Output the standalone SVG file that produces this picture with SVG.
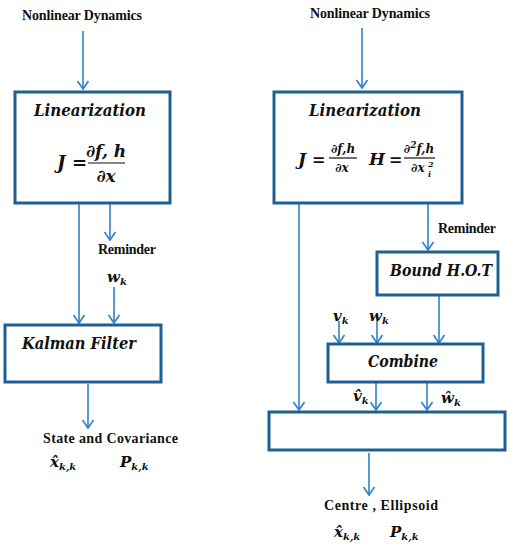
<svg xmlns="http://www.w3.org/2000/svg" width="516" height="550" viewBox="0 0 516 550">
<defs>
<marker id="ah" markerUnits="userSpaceOnUse" markerWidth="14" markerHeight="14" refX="9" refY="6" orient="auto" overflow="visible">
<path d="M1,0.5 L9,6 L1,11.5" fill="none" stroke="#2f82c4" stroke-width="1.6"/>
</marker>
</defs>
<style>
.box{fill:#fff;stroke:#1e5f94;stroke-width:3}
.ar{fill:none;stroke:#2f82c4;stroke-width:1.6;marker-end:url(#ah)}
.lbl{font-family:"Liberation Serif",serif;font-weight:bold;font-size:14px;fill:#111}
.m{font-family:"DejaVu Serif","Liberation Serif",serif;font-weight:bold;font-style:italic;fill:#111}
.mt{font-family:"DejaVu Serif","Liberation Serif",serif;font-weight:bold;fill:#111}
.fl{stroke:#111;stroke-width:1.2}
</style>
<rect width="516" height="550" fill="#fff"/>
<g id="connectors">
<line class="ar" x1="83" y1="31" x2="83" y2="89"/>
<line class="ar" x1="79" y1="203" x2="79" y2="323"/>
<line class="ar" x1="110" y1="203" x2="110" y2="240"/>
<line class="ar" x1="114" y1="287" x2="114" y2="323"/>
<line class="ar" x1="88" y1="384" x2="88" y2="428"/>
<line class="ar" x1="362" y1="28" x2="362" y2="88"/>
<line class="ar" x1="299" y1="204" x2="299" y2="410"/>
<line class="ar" x1="428" y1="204" x2="428" y2="250"/>
<line class="ar" x1="339" y1="321" x2="339" y2="343"/>
<line class="ar" x1="377" y1="321" x2="377" y2="343"/>
<line class="ar" x1="439" y1="296" x2="439" y2="343"/>
<line class="ar" x1="376" y1="383" x2="376" y2="410"/>
<line class="ar" x1="427" y1="383" x2="427" y2="410"/>
<line class="ar" x1="369" y1="453" x2="369" y2="495"/>
</g>
<g id="left-input"><text class="lbl" x="82" y="20" text-anchor="middle" textLength="120">Nonlinear Dynamics</text></g>
<g id="left-linearization">
<rect class="box" x="15" y="92" width="155" height="111"/>
<text class="m" x="90" y="116" font-size="17" text-anchor="middle" textLength="112" lengthAdjust="spacingAndGlyphs">Linearization</text>
<text class="m" x="57" y="169" font-size="18">J</text>
<text class="mt" x="72" y="169" font-size="18">=</text>
<text class="m" x="106" y="157" font-size="17" text-anchor="middle">∂f, h</text>
<line class="fl" x1="88" y1="163" x2="125" y2="163"/>
<text class="m" x="106" y="182" font-size="17" text-anchor="middle">∂x</text>
</g>
<g id="left-reminder">
<text class="lbl" x="98" y="254" textLength="58">Reminder</text>
<text class="m" x="107" y="282" font-size="15">w<tspan font-size="10" dy="3">k</tspan></text>
</g>
<g id="kalman">
<rect class="box" x="5" y="325" width="156" height="57"/>
<text class="m" x="22" y="349" font-size="16" textLength="114" lengthAdjust="spacingAndGlyphs">Kalman Filter</text>
</g>
<g id="left-output">
<text class="lbl" x="43" y="443" textLength="135">State and Covariance</text>
<text class="m" x="50" y="467" font-size="15">x̂<tspan font-size="10" dy="3">k,k</tspan></text>
<text class="m" x="120" y="467" font-size="15">P<tspan font-size="10" dy="3">k,k</tspan></text>
</g>
<g id="right-input"><text class="lbl" x="370" y="18" text-anchor="middle" textLength="120">Nonlinear Dynamics</text></g>
<g id="right-linearization">
<rect class="box" x="274" y="92" width="188" height="111"/>
<text class="m" x="365" y="116" font-size="17" text-anchor="middle" textLength="112" lengthAdjust="spacingAndGlyphs">Linearization</text>
<text class="m" x="298" y="165" font-size="17">J</text>
<text class="mt" x="312" y="165" font-size="16">=</text>
<text class="m" x="343" y="153" font-size="12" text-anchor="middle">∂f,h</text>
<line class="fl" x1="329" y1="158" x2="357" y2="158"/>
<text class="m" x="342" y="172" font-size="12" text-anchor="middle">∂x</text>
<text class="m" x="369" y="165" font-size="17">H</text>
<text class="mt" x="389" y="165" font-size="16">=</text>
<text class="m" x="419" y="153" font-size="12" text-anchor="middle">∂<tspan font-size="9" dy="-5">2</tspan><tspan dy="5">f,h</tspan></text>
<line class="fl" x1="404" y1="158" x2="435" y2="158"/>
<text class="m" x="411" y="172" font-size="12">∂x</text>
<text class="m" x="428" y="167" font-size="8">2</text>
<text class="m" x="428" y="177" font-size="8">i</text>
</g>
<g id="right-reminder"><text class="lbl" x="438" y="233" textLength="58">Reminder</text></g>
<g id="bound">
<rect class="box" x="377" y="252" width="121" height="43"/>
<text class="m" x="390" y="276" font-size="16" textLength="102" lengthAdjust="spacingAndGlyphs">Bound H.O.T</text>
</g>
<g id="vk-wk">
<text class="m" x="333" y="321" font-size="15">v<tspan font-size="10" dy="3">k</tspan></text>
<text class="m" x="369" y="321" font-size="15">w<tspan font-size="10" dy="3">k</tspan></text>
</g>
<g id="combine">
<rect class="box" x="328" y="344" width="155" height="38"/>
<text class="m" x="403" y="367" font-size="16" text-anchor="middle" textLength="70" lengthAdjust="spacingAndGlyphs">Combine</text>
</g>
<g id="vhat-what">
<text class="m" x="353" y="401" font-size="15">v̂<tspan font-size="10" dy="3">k</tspan></text>
<text class="m" x="441" y="403" font-size="15">ŵ<tspan font-size="10" dy="3">k</tspan></text>
</g>
<g id="estimator">
<rect class="box" x="269" y="412" width="236" height="38"/>
</g>
<g id="right-output">
<text class="lbl" x="324" y="510" textLength="114">Centre  ,  Ellipsoid</text>
<text class="m" x="334" y="537" font-size="15">x̂<tspan font-size="10" dy="3">k,k</tspan></text>
<text class="m" x="390" y="537" font-size="15">P<tspan font-size="10" dy="3">k,k</tspan></text>
</g>
</svg>
